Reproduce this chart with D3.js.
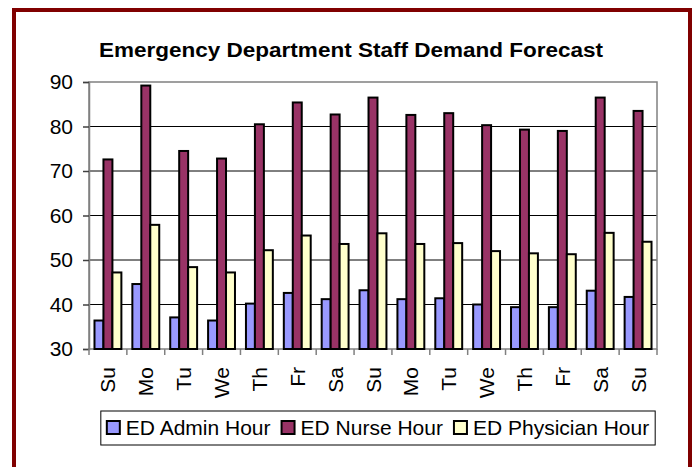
<!DOCTYPE html>
<html>
<head>
<meta charset="utf-8">
<script src="https://cdn.jsdelivr.net/npm/d3@7"></script>
<style>
  body { margin: 0; background: #fff; }
  text { font-family: "Liberation Sans", Arial, sans-serif; fill: #000; }
</style>
</head>
<body>
<svg id="chart"></svg>
<script>
const width = 696, height = 467;

const days = ["Su", "Mo", "Tu", "We", "Th", "Fr", "Sa", "Su", "Mo", "Tu", "We", "Th", "Fr", "Sa", "Su"];
const seriesNames = ["ED Admin Hour", "ED Nurse Hour", "ED Physician Hour"];
const adminHours = [36.4, 44.6, 37.1, 36.4, 40.2, 42.6, 41.2, 43.2, 41.2, 41.4, 40.0, 39.4, 39.4, 43.1, 41.7];
const nurseHours = [72.6, 89.2, 74.5, 72.8, 80.5, 85.4, 82.7, 86.5, 82.6, 83.0, 80.3, 79.3, 79.0, 86.5, 83.5];
const physicianHours = [47.2, 57.9, 48.4, 47.2, 52.2, 55.5, 53.6, 56.0, 53.6, 53.8, 52.0, 51.5, 51.3, 56.1, 54.1];
const yTicks = [30, 40, 50, 60, 70, 80, 90];
const colors = ["#9999ff", "#993366", "#ffffcc"];

const series = [adminHours, nurseHours, physicianHours];
const labelSize = 21;

const svg = d3.select("#chart")
    .attr("width", width)
    .attr("height", height);

// outer frame
svg.append("rect")
    .attr("x", 14).attr("y", 10)
    .attr("width", 676).attr("height", 475)
    .attr("fill", "#fff")
    .attr("stroke", "#800000")
    .attr("stroke-width", 4);

const plot = {left: 89, right: 657, top: 82, bottom: 349};

const x0 = d3.scaleBand()
    .domain(d3.range(days.length))
    .range([plot.left, plot.right])
    .paddingInner(0.29)
    .paddingOuter(0.145);

const x1 = d3.scaleBand()
    .domain(d3.range(series.length))
    .range([0, x0.bandwidth()]);

const y = d3.scaleLinear()
    .domain([30, 90])
    .range([plot.bottom, plot.top]);

svg.append("text")
    .attr("x", 351).attr("y", 57)
    .attr("text-anchor", "middle")
    .attr("font-size", 19.5)
    .attr("font-weight", "bold")
    .attr("textLength", 504)
    .attr("lengthAdjust", "spacingAndGlyphs")
    .text("Emergency Department Staff Demand Forecast");

// gridlines
svg.append("g")
    .selectAll("line")
    .data(yTicks.slice(1, -1))
    .join("line")
    .attr("x1", plot.left).attr("x2", plot.right)
    .attr("y1", d => y(d)).attr("y2", d => y(d))
    .attr("stroke", "#000")
    .attr("stroke-width", 1);

// plot border
svg.append("rect")
    .attr("x", plot.left).attr("y", plot.top)
    .attr("width", plot.right - plot.left).attr("height", plot.bottom - plot.top)
    .attr("fill", "none")
    .attr("stroke", "#808080")
    .attr("stroke-width", 1.5);

// bars
const groups = svg.append("g")
    .selectAll("g")
    .data(days.map((d, i) => i))
    .join("g")
    .attr("transform", i => `translate(${x0(i)},0)`);

groups.selectAll("rect")
    .data(i => series.map((s, k) => ({k: k, v: s[i]})))
    .join("rect")
    .attr("x", d => x1(d.k))
    .attr("y", d => y(d.v))
    .attr("width", x1.bandwidth())
    .attr("height", d => y(30) - y(d.v))
    .attr("fill", d => colors[d.k])
    .attr("stroke", "#000")
    .attr("stroke-width", 2);

// y axis
const yAxis = svg.append("g")
    .attr("transform", `translate(${plot.left},0)`)
    .call(d3.axisLeft(y).tickValues(yTicks).tickSize(6).tickPadding(10));
yAxis.select(".domain").attr("stroke", "#808080").attr("stroke-width", 1.5);
yAxis.selectAll(".tick line").attr("stroke", "#404040").attr("stroke-width", 1.5);
yAxis.selectAll(".tick text")
    .attr("font-size", labelSize)
    .attr("font-family", "Liberation Sans, Arial, sans-serif")
    .attr("fill", "#000");

// x axis ticks at category boundaries
const step = x0.step();
svg.append("g")
    .selectAll("line")
    .data(d3.range(days.length + 1))
    .join("line")
    .attr("x1", i => plot.left + i * step).attr("x2", i => plot.left + i * step)
    .attr("y1", plot.bottom).attr("y2", plot.bottom + 6)
    .attr("stroke", "#808080")
    .attr("stroke-width", 1.5);

svg.append("g")
    .selectAll("text")
    .data(days.map((d, i) => ({d: d, i: i})))
    .join("text")
    .attr("transform", d => `translate(${x0(d.i) + x0.bandwidth() / 2 + 7.5},${plot.bottom + 18}) rotate(-90)`)
    .attr("text-anchor", "end")
    .attr("font-size", labelSize)
    .text(d => d.d);

// legend
const legend = svg.append("g");
const legendBox = legend.append("rect")
    .attr("fill", "#fff")
    .attr("stroke", "#000")
    .attr("stroke-width", 1);
let lx = 0;
const offsets = [];
seriesNames.forEach((name, k) => {
    const g = legend.append("g").attr("class", "item");
    g.append("rect")
        .attr("x", 0).attr("y", -14)
        .attr("width", 13).attr("height", 13)
        .attr("fill", colors[k])
        .attr("stroke", "#000")
        .attr("stroke-width", 2);
    const t = g.append("text")
        .attr("x", 19).attr("y", 0)
        .attr("font-size", labelSize)
        .text(name);
    offsets.push(lx);
    lx += 19 + t.node().getComputedTextLength() + 11;
});
const legendW = lx - 11;
const legendX = 378 - legendW / 2;
legend.selectAll("g.item")
    .attr("transform", (d, k) => `translate(${legendX + offsets[k]},435)`);
legendBox
    .attr("x", legendX - 6).attr("y", 411)
    .attr("width", legendW + 12).attr("height", 34);
</script>
</body>
</html>
